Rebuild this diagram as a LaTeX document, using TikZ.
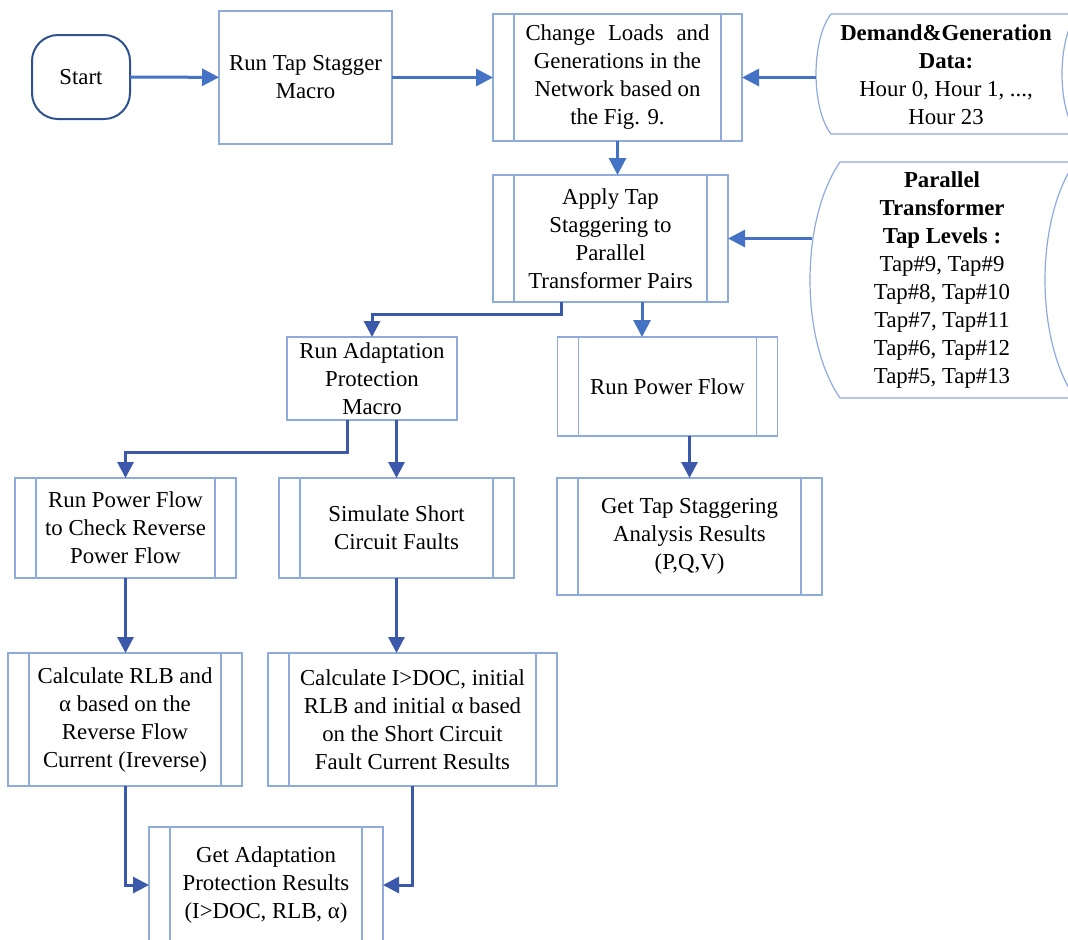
\documentclass[tikz,border=0pt]{standalone}
\usepackage{fontspec}
\setmainfont{Liberation Serif}
\usetikzlibrary{arrows.meta}
\definecolor{boxblue}{RGB}{143,170,220}
\definecolor{arrblue}{RGB}{68,114,196}
\definecolor{arrdark}{RGB}{60,88,170}
\definecolor{startblue}{RGB}{47,82,143}
\begin{document}
\begin{tikzpicture}[x=0.5pt,y=-0.5pt,
    font=\fontsize{11.4}{14}\selectfont,
    box/.style={draw=boxblue,line width=0.6pt,align=center,inner sep=0pt,outer sep=0pt},
    subbox/.style={box,path picture={
        \draw[boxblue,line width=0.6pt] ([xshift=10.5pt]path picture bounding box.north west) -- ([xshift=10.5pt]path picture bounding box.south west);
        \draw[boxblue,line width=0.6pt] ([xshift=-10.5pt]path picture bounding box.north east) -- ([xshift=-10.5pt]path picture bounding box.south east);}},
    datashape/.style={draw=boxblue,line width=0.6pt},
    arr/.style={draw=arrblue,line width=1.5pt,-{Triangle[length=8.5pt,width=8.5pt]}},
    arrd/.style={arr,draw=arrdark,-{Triangle[length=8pt,width=8pt,fill=arrdark]}}]
    \useasboundingbox (0,0) rectangle (1068,939);
    \clip (0,0) rectangle (1068,939);
    \node[box,draw=startblue,line width=1pt,rounded corners=13pt,minimum width=49pt,minimum height=42pt] (start) at (81,77) {Start};
    \node[box,minimum width=86.5pt,minimum height=66.5pt] (runtap) at (305.5,77.5) {Run Tap Stagger\\Macro};
    \node[subbox,minimum width=124.5pt,minimum height=63.5pt] (change) at (617.5,77.5) {\makebox[92pt][s]{Change Loads and}\\Generations in the\\Network based on\\the Fig. 9.};
    \node[subbox,minimum width=117.5pt,minimum height=63.5pt] (apply) at (610.5,238.5) {Apply Tap\\Staggering to\\Parallel\\Transformer Pairs};
    \node[box,minimum width=85pt,minimum height=41.5pt] (runadapt) at (372,378.5) {Run Adaptation\\Protection\\Macro};
    \node[subbox,minimum width=110pt,minimum height=49.5pt] (runpf) at (667.5,386.5) {Run Power Flow};
    \node[subbox,minimum width=132.5pt,minimum height=58.5pt] (gettap) at (689.5,536.5) {Get Tap Staggering\\Analysis Results\\(P,Q,V)};
    \node[subbox,minimum width=110.5pt,minimum height=50pt] (rpfcheck) at (125.5,528) {Run Power Flow\\to Check Reverse\\Power Flow};
    \node[subbox,minimum width=117.5pt,minimum height=50pt] (simulate) at (396.5,528) {Simulate Short\\Circuit Faults};
    \node[subbox,minimum width=117pt,minimum height=66.5pt] (calcrlb) at (125,719.5) {Calculate RLB and\\α based on the\\Reverse Flow\\Current (Ireverse)};
    \node[subbox,minimum width=144.5pt,minimum height=66.5pt] (calcdoc) at (412.5,719.5) {Calculate I>DOC, initial\\RLB and initial α based\\on the Short Circuit\\Fault Current Results};
    \node[subbox,minimum width=117pt,minimum height=58pt] (getadapt) at (266,885) {Get Adaptation\\Protection Results\\(I>DOC, RLB, α)};
    \draw[datashape] (831,14) -- (1077,14) .. controls (1057,40) and (1057,108) .. (1077,134) -- (831,134) .. controls (811,108) and (811,40) .. (831,14) -- cycle;
    \node[align=center] (demand) at (946,75) {\textbf{Demand\&Generation}\\\textbf{Data:}\\Hour 0, Hour 1, ...,\\Hour 23};
    \coordinate (dem-in) at (816,77.5);
    \draw[datashape] (840,162) -- (1075,162) .. controls (1035,220) and (1035,340) .. (1075,398) -- (840,398) .. controls (800,340) and (800,220) .. (840,162) -- cycle;
    \node[align=center] (taplevels) at (942,280) {\textbf{Parallel}\\\textbf{Transformer}\\\textbf{Tap Levels :}\\Tap\#9, Tap\#9\\Tap\#8, Tap\#10\\Tap\#7, Tap\#11\\Tap\#6, Tap\#12\\Tap\#5, Tap\#13};
    \coordinate (par-in) at (812,238.5);
    \draw[arr] (start) -- (runtap);
    \draw[arr] (runtap) -- (change);
    \draw[arr] (dem-in) -- (dem-in -| change.east);
    \draw[arr] (change.south) -- (change.south |- apply.north);
    \draw[arr] (par-in) -- (par-in -| apply.east);
    \draw[arrd] ([xshift=-24.75pt]apply.south) -- ++(0,12) -| (runadapt.north);
    \draw[arr] ([xshift=15.75pt]apply.south) -- ([xshift=15.75pt]apply.south |- runpf.north);
    \draw[arrd] (gettap.north |- runpf.south) -- (gettap.north);
    \draw[arrd] ([xshift=-12.5pt]runadapt.south) -- ++(0,32) -| (rpfcheck.north);
    \draw[arrd] (simulate.north |- runadapt.south) -- (simulate.north);
    \draw[arrd] (rpfcheck.south) -- (rpfcheck.south |- calcrlb.north);
    \draw[arrd] (simulate.south) -- (simulate.south |- calcdoc.north);
    \draw[arrd] (calcrlb.south) |- (getadapt.west);
    \draw[arrd] (calcdoc.south) |- (getadapt.east);
\end{tikzpicture}
\end{document}
